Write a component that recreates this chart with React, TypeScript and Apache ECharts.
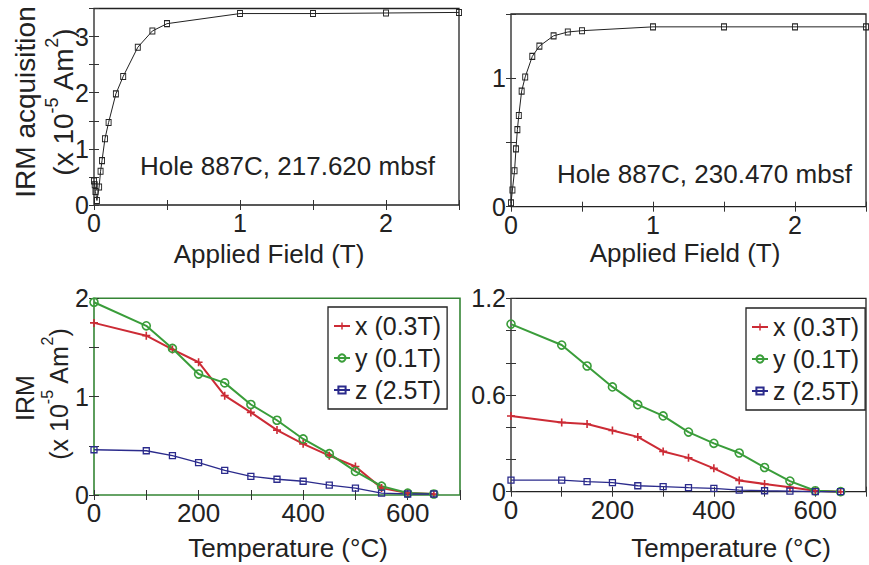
import React, { useEffect, useRef } from "react";
import * as echarts from "echarts";

// ---- Data ----
const fieldA = [0, 0.005, 0.01, 0.02, 0.035, 0.045, 0.055, 0.075, 0.1, 0.15, 0.2, 0.3, 0.4, 0.5, 1, 1.5, 2, 2.5];
const irmA = [0.43, 0.36, 0.24, 0.08, 0.32, 0.6, 0.79, 1.18, 1.47, 1.98, 2.29, 2.81, 3.1, 3.23, 3.41, 3.41, 3.42, 3.43];

const fieldB = [0, 0.01, 0.025, 0.035, 0.045, 0.055, 0.075, 0.1, 0.15, 0.2, 0.3, 0.4, 0.5, 1, 1.5, 2, 2.5];
const irmB = [0.03, 0.13, 0.28, 0.45, 0.6, 0.71, 0.9, 1.01, 1.17, 1.25, 1.33, 1.36, 1.37, 1.4, 1.4, 1.4, 1.4];

const temps = [0, 100, 150, 200, 250, 300, 350, 400, 450, 500, 550, 600, 650];
const xLeft = [1.75, 1.62, 1.48, 1.35, 1.01, 0.84, 0.66, 0.52, 0.4, 0.29, 0.07, 0.02, 0.01];
const yLeft = [1.96, 1.72, 1.49, 1.23, 1.14, 0.92, 0.76, 0.57, 0.42, 0.24, 0.09, 0.02, 0.01];
const zLeft = [0.46, 0.45, 0.4, 0.33, 0.25, 0.19, 0.16, 0.14, 0.1, 0.07, 0.02, 0.01, 0.01];

const xRight = [0.47, 0.43, 0.42, 0.38, 0.34, 0.25, 0.21, 0.145, 0.07, 0.048, 0.027, 0.006, 0.0];
const yRight = [1.04, 0.91, 0.78, 0.65, 0.54, 0.47, 0.37, 0.3, 0.24, 0.15, 0.066, 0.006, 0.0];
const zRight = [0.072, 0.072, 0.062, 0.056, 0.037, 0.031, 0.025, 0.021, 0.01, 0.006, 0.004, 0.0, 0.0];

const legendNames = ["x (0.3T)", "y (0.1T)", "z (2.5T)"];
const sampleLabels = ["Hole 887C, 217.620 mbsf", "Hole 887C, 230.470 mbsf"];

// ---- Styles ----
const FONT = "'Liberation Sans', Arial, Helvetica, sans-serif";
const TXT = "#222";
const RED = "#cc2b35";
const GREEN = "#3a9d3a";
const BLUE = "#2b2b8c";
const PLUS = "path://M4,0H6V4H10V6H6V10H4V6H0V4H4Z";

const pairs = (xs: number[], ys: number[]) => xs.map((x, i) => [x, ys[i]]);

const tick = { show: true, inside: true, length: 5, lineStyle: { color: "#333", width: 1 } };

function xPair(grid: number, min: number, max: number, interval: number, fmt: (v: number) => string, fs = 25) {
  return [
    {
      type: "value", gridIndex: grid, min, max, interval, position: "bottom",
      axisLine: { show: false }, splitLine: { show: false }, axisTick: tick,
      axisLabel: { formatter: fmt, fontSize: fs, fontFamily: FONT, color: TXT, margin: 7, lineHeight: 22 },
    },
    {
      type: "value", gridIndex: grid, min, max, interval, position: "top",
      axisLine: { show: false }, splitLine: { show: false }, axisTick: tick, axisLabel: { show: false },
    },
  ];
}
function yPair(grid: number, min: number, max: number, interval: number, fmt: (v: number) => string) {
  return [
    {
      type: "value", gridIndex: grid, min, max, interval, position: "left",
      axisLine: { show: false }, splitLine: { show: false }, axisTick: tick,
      axisLabel: { formatter: fmt, fontSize: 25, fontFamily: FONT, color: TXT, margin: 5 },
    },
    {
      type: "value", gridIndex: grid, min, max, interval, position: "right",
      axisLine: { show: false }, splitLine: { show: false }, axisTick: tick, axisLabel: { show: false },
    },
  ];
}

const intFmt = (v: number) => (Math.abs(v - Math.round(v)) < 1e-9 ? String(Math.round(v)) : "");
const tempFmt = (v: number) => (Math.round(v) % 200 === 0 ? String(Math.round(v)) : "");
const sixFmt = (v: number) => {
  const k = v / 0.6;
  if (Math.abs(k - Math.round(k)) > 1e-6) return "";
  const r = Math.round(k) * 0.6;
  return r === 0 ? "0" : r.toFixed(1);
};

function fieldSeries(grid: number, xs: number[], ys: number[], name: string) {
  return {
    type: "line", name, xAxisIndex: grid * 2, yAxisIndex: grid * 2,
    data: pairs(xs, ys), clip: false,
    symbol: "rect", symbolSize: [5, 6],
    itemStyle: { color: "rgba(0,0,0,0)", borderColor: "#222", borderWidth: 1 },
    lineStyle: { color: "#222", width: 1 },
  };
}

function demagSeries(grid: number, xs: number[], ys: number[], zs: number[]) {
  const ax = { xAxisIndex: grid * 2, yAxisIndex: grid * 2, clip: false };
  return [
    {
      type: "line", name: legendNames[0], ...ax, data: pairs(temps, xs),
      symbol: PLUS, symbolSize: 8, color: RED,
      itemStyle: { color: RED }, lineStyle: { color: RED, width: 2 },
    },
    {
      type: "line", name: legendNames[1], ...ax, data: pairs(temps, ys),
      symbol: "circle", symbolSize: 8, color: GREEN,
      itemStyle: { color: "rgba(0,0,0,0)", borderColor: GREEN, borderWidth: 1.6 },
      lineStyle: { color: GREEN, width: 2 },
    },
    {
      type: "line", name: legendNames[2], ...ax, data: pairs(temps, zs),
      symbol: "rect", symbolSize: 6, color: BLUE,
      itemStyle: { color: "rgba(0,0,0,0)", borderColor: BLUE, borderWidth: 1.3 },
      lineStyle: { color: BLUE, width: 1.3 },
    },
  ];
}

function legend(left: number, top: number) {
  return {
    left, top, orient: "vertical", data: legendNames, selectedMode: false,
    itemWidth: 16, itemHeight: 9, itemGap: 6, padding: [6, 6, 6, 5],
    borderColor: "#222", borderWidth: 1.3, backgroundColor: "#fff",
    textStyle: { fontSize: 25, fontFamily: FONT, color: TXT, lineHeight: 26 },
  };
}

const supRich = (fs: number) => ({
  b: { fontSize: fs, fontFamily: FONT, fill: TXT, verticalAlign: "bottom", lineHeight: fs + 7 },
  s: { fontSize: Math.round(fs * 0.65), fontFamily: FONT, fill: TXT, verticalAlign: "top", lineHeight: Math.round(fs * 0.75) },
});

function text(x: number, y: number, str: string, fs: number, rot = 0, align = "center") {
  return {
    type: "text", x, y, rotation: rot, z: 100,
    style: { text: str, fontSize: fs, fontFamily: FONT, fill: TXT, align, verticalAlign: "middle" },
  };
}
function unitText(x: number, y: number, fs: number) {
  return {
    type: "text", x, y, rotation: Math.PI / 2, z: 100,
    style: {
      text: "{b|(x 10}{s|-5}{b| Am}{s|2}{b|)}",
      rich: supRich(fs), fontSize: fs, fontFamily: FONT, fill: TXT,
      align: "center", verticalAlign: "middle",
    },
  };
}

const option: any = {
  animation: false,
  backgroundColor: "#fff",
  grid: [
    { left: 94, top: 8.5, width: 365, height: 196.5, show: true, borderColor: "#222", borderWidth: 1.3 },
    { left: 511, top: 14, width: 363, height: 192.7, show: true, borderColor: "#222", borderWidth: 1.3 },
    { left: 94, top: 298.3, width: 366, height: 196.7, show: true, borderColor: "#358535", borderWidth: 1.6 },
    { left: 511, top: 298.3, width: 364, height: 193.4, show: true, borderColor: "#222", borderWidth: 1.3 },
  ],
  xAxis: [
    ...xPair(0, 0, 2.5, 0.5, intFmt),
    ...xPair(1, 0, 2.5, 0.5, intFmt),
    ...xPair(2, 0, 700, 100, tempFmt, 26),
    ...xPair(3, 0, 700, 100, tempFmt, 26),
  ],
  yAxis: [
    ...yPair(0, 0, 3.5, 0.5, intFmt),
    ...yPair(1, 0, 1.5, 0.5, intFmt),
    ...yPair(2, 0, 2, 0.5, intFmt),
    ...yPair(3, 0, 1.2, 0.2, sixFmt),
  ],
  legend: [legend(328, 307), legend(746, 308)],
  series: [
    fieldSeries(0, fieldA, irmA, "acqA"),
    fieldSeries(1, fieldB, irmB, "acqB"),
    ...demagSeries(2, xLeft, yLeft, zLeft),
    ...demagSeries(3, xRight, yRight, zRight),
  ],
  graphic: [
    text(140, 166, sampleLabels[0], 26, 0, "left"),
    text(557, 174, sampleLabels[1], 26, 0, "left"),
    text(25, 102, "IRM acquisition", 28, Math.PI / 2),
    unitText(60, 102, 28),
    text(25, 398, "IRM", 25, Math.PI / 2),
    unitText(55, 394, 25),
    text(269, 254, "Applied Field (T)", 26),
    text(685, 253, "Applied Field (T)", 26),
    text(288, 548, "Temperature (\u00B0C)", 26),
    text(731, 548, "Temperature (\u00B0C)", 26),
  ],
};

export default function App() {
  const ref = useRef<HTMLDivElement>(null);
  useEffect(() => {
    if (!ref.current) return;
    const chart = echarts.init(ref.current, null, { renderer: "svg" });
    chart.setOption(option);
    return () => chart.dispose();
  }, []);
  return (
    <div
      ref={ref}
      style={{ position: "fixed", left: 0, top: 0, width: 869, height: 565, background: "#fff" }}
    />
  );
}
